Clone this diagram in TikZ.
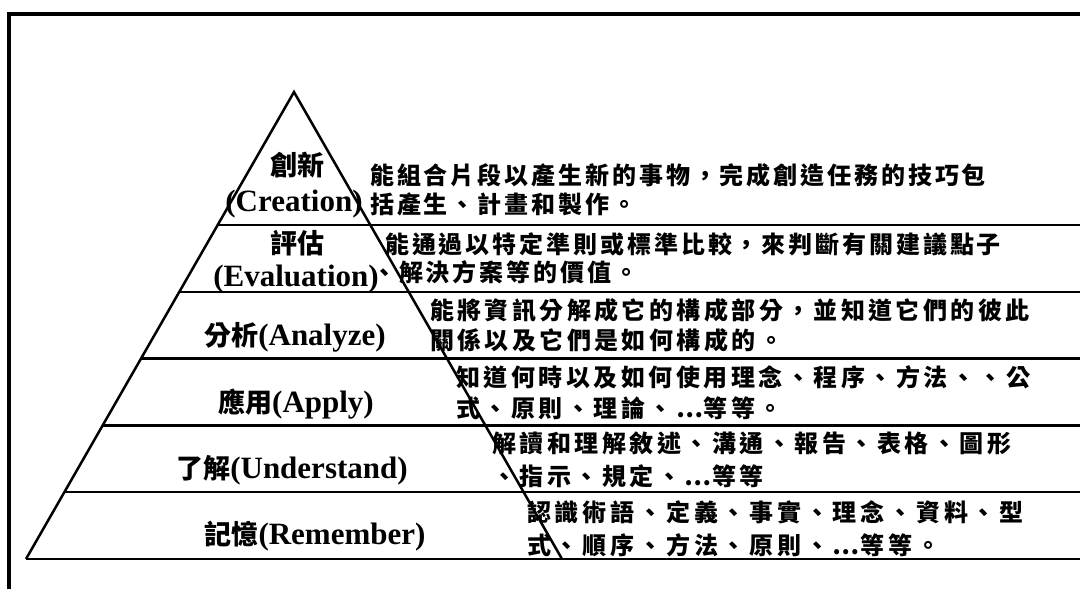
\documentclass[tikz,border=0pt]{standalone}
\usepackage{fontspec}
\setmainfont{Liberation Serif}
\newfontfamily\cjk{Noto Sans CJK TC}
\usetikzlibrary{calc}
\makeatletter
\newcommand\cells[2]{\@tfor\ch:=#2\do{\makebox[#1pt][l]{\ch}}}
\makeatother
\newcommand\cjkL{\cjk\bfseries\fontsize{27}{30}\selectfont}
\tikzset{
  frameline/.style={line width=3.5pt},
  tri/.style={line width=2.5pt, line join=miter},
  lab/.style={inner sep=0pt, anchor=base, font=\bfseries\fontsize{31}{34}\selectfont},
  desc/.style={inner sep=0pt, anchor=base west, font=\cjk\bfseries\fontsize{24}{28}\selectfont}
}
\begin{document}
\begin{tikzpicture}[x=1pt,y=-1pt]
\useasboundingbox (0,0) rectangle (1080,589);
% frame
\coordinate (F0) at (9,592);
\coordinate (F1) at (9,14);
\coordinate (F2) at (1085,14);
\draw[frameline] (F0) -- (F1) -- (F2);
% pyramid geometry
\coordinate (A) at (294,92);
\coordinate (BL) at (26,559);
\coordinate (BR) at (562,559);
\coordinate (E) at (1085,0);
\coordinate (L1) at ($(A)!0.2848!(BL)$);
\coordinate (L2) at ($(A)!0.4278!(BL)$);
\coordinate (L3) at ($(A)!0.5709!(BL)$);
\coordinate (L4) at ($(A)!0.7139!(BL)$);
\coordinate (L5) at ($(A)!0.8570!(BL)$);
\foreach \c in {L1,L2,L3,L4,L5,BL}{
  \draw[tri] (\c) -- (\c -| E);
}
\draw[tri] (BL) -- (A) -- (BR);
% labels
\node[lab] (t1a) at (297,175) {\cjkL 創新};
\node[lab] (t1b) at (294,211) {(Creation)};
\node[lab] (t2a) at (297,253) {\cjkL 評估};
\node[lab] (t2b) at (296,286) {(Evaluation)};
\node[lab] (t3) at (295,345) {{\cjkL 分析}(Analyze)};
\node[lab] (t4) at (296,412) {{\cjkL 應用}(Apply)};
\node[lab] (t5) at (292,478) {{\cjkL 了解}(Understand)};
\node[lab] (t6) at (315,544) {{\cjkL 記憶}(Remember)};
% descriptions
\node[desc] (d1a) at (370,184) {\cells{26.9}{能組合片段以產生新的事物，完成創造任務的技巧包}};
\node[desc] (d1b) at (370,213) {\cells{26.9}{括產生、計畫和製作。}};
\node[desc] (d2a) at (385,253) {\cells{26.9}{能通過以特定準則或標準比較，來判斷有關建議點子}};
\node[desc] (d2b) at (372,281) {\cells{26.9}{、解決方案等的價值。}};
\node[desc] (d3a) at (430,319) {\cells{27.4}{能將資訊分解成它的構成部分，並知道它們的彼此}};
\node[desc] (d3b) at (430,349) {\cells{27.4}{關係以及它們是如何構成的。}};
\node[desc] (d4a) at (456,386) {\cells{27.5}{知道何時以及如何使用理念、程序、方法、、公}};
\node[desc] (d4b) at (456,417) {\cells{27.5}{式、原則、理論、…等等。}};
\node[desc] (d5a) at (492,452) {\cells{27.5}{解讀和理解敘述、溝通、報告、表格、圖形}};
\node[desc] (d5b) at (492,485) {\cells{27.5}{、指示、規定、…等等}};
\node[desc] (d6a) at (527,521) {\cells{27.8}{認識術語、定義、事實、理念、資料、型}};
\node[desc] (d6b) at (527,554) {\cells{27.8}{式、順序、方法、原則、…等等。}};
\end{tikzpicture}
\end{document}
